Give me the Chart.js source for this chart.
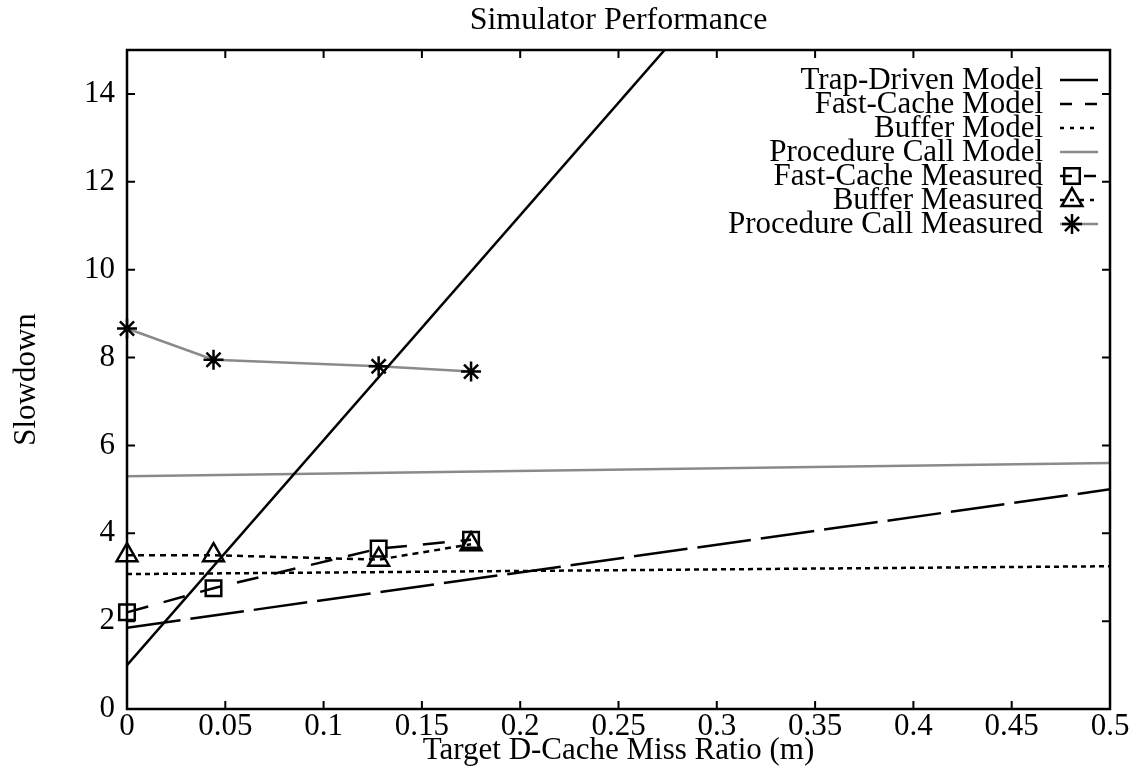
<!DOCTYPE html>
<html>
<head>
<meta charset="utf-8">
<title>Simulator Performance</title>
<script src="https://cdn.jsdelivr.net/npm/chart.js@4.4.1/dist/chart.umd.min.js"></script>
<style>
  html, body { margin: 0; padding: 0; background: #fff; }
  #wrap { width: 1140px; height: 769px; }
</style>
</head>
<body>
<div id="wrap"><canvas id="chartSim" width="1140" height="769"></canvas></div>
<script>
// ---- data ----
const xTickValues = [0, 0.05, 0.1, 0.15, 0.2, 0.25, 0.3, 0.35, 0.4, 0.45, 0.5];
const xTickLabels = ['0', '0.05', '0.1', '0.15', '0.2', '0.25', '0.3', '0.35', '0.4', '0.45', '0.5'];
const yTickValues = [0, 2, 4, 6, 8, 10, 12, 14];

// model lines: straight, given at both ends of the x range
const modelX = [0, 0.5];
const trapDrivenModel = [1.0, 26.6];      // leaves the top of the plot near m = 0.27
const fastCacheModel = [1.85, 5.0];
const bufferModel = [3.07, 3.25];
const procCallModel = [5.3, 5.6];

// measured points
const measuredX = [0, 0.044, 0.128, 0.175];
const fastCacheMeasured = [2.2, 2.75, 3.65, 3.85];
const bufferMeasured = [3.5, 3.5, 3.4, 3.75];
const procCallMeasured = [8.66, 7.95, 7.8, 7.68];

const GRAY = '#8a8a8a';
const FONT = "'Liberation Serif', 'Times New Roman', serif";

const pts = (xs, ys) => xs.map((x, i) => ({ x: x, y: ys[i] }));

Chart.defaults.font.family = FONT;
Chart.defaults.color = '#000';

// caja, marcas interiores y leyenda estilo gnuplot
const gnuplotFrame = {
    id: 'gnuplotFrame',
    afterDraw(chart) {
        const ctx = chart.ctx;
        const a = chart.chartArea;
        const xs = chart.scales.x;
        const ys = chart.scales.y;
        ctx.save();
        ctx.strokeStyle = '#000';
        ctx.setLineDash([]);

        // tick marks on all four sides, pointing inwards
        ctx.lineWidth = 2;
        ctx.beginPath();
        xTickValues.forEach(v => {
            const px = xs.getPixelForValue(v);
            ctx.moveTo(px, a.bottom); ctx.lineTo(px, a.bottom - 8);
            ctx.moveTo(px, a.top); ctx.lineTo(px, a.top + 8);
        });
        yTickValues.forEach(v => {
            const py = ys.getPixelForValue(v);
            ctx.moveTo(a.left, py); ctx.lineTo(a.left + 8, py);
            ctx.moveTo(a.right, py); ctx.lineTo(a.right - 8, py);
        });
        ctx.stroke();

        // frame
        ctx.lineWidth = 2.5;
        ctx.strokeRect(a.left, a.top, a.right - a.left, a.bottom - a.top);

        // legend, text right aligned with the sample on its right
        ctx.font = '31px ' + FONT;
        ctx.textAlign = 'right';
        ctx.textBaseline = 'alphabetic';
        chart.data.datasets.forEach((ds, i) => {
            const y = a.top + 30 + 24 * i;
            ctx.fillStyle = '#000';
            ctx.fillText(ds.label, a.right - 67, y + 9);

            ctx.strokeStyle = ds.borderColor;
            ctx.lineWidth = ds.borderWidth;
            ctx.setLineDash(ds.legendDash || []);
            ctx.beginPath();
            ctx.moveTo(a.right - 50, y);
            ctx.lineTo(a.right - 12, y);
            ctx.stroke();
            ctx.setLineDash([]);

            if (ds.pointRadius > 0) {
                ctx.strokeStyle = ds.pointBorderColor;
                ctx.fillStyle = 'rgba(0,0,0,0)';
                Chart.helpers.drawPoint(ctx, {
                    pointStyle: ds.pointStyle,
                    radius: ds.pointRadius,
                    borderWidth: ds.pointBorderWidth,
                    rotation: 0
                }, a.right - 38, y);
            }
        });
        ctx.restore();
    }
};

const ctxSim = document.getElementById('chartSim').getContext('2d');
new Chart(ctxSim, {
    type: 'line',
    data: {
        datasets: [
            {
                label: 'Trap-Driven Model',
                data: pts(modelX, trapDrivenModel),
                borderColor: '#000', borderWidth: 2.5,
                pointRadius: 0
            },
            {
                label: 'Fast-Cache Model',
                data: pts(modelX, fastCacheModel),
                borderColor: '#000', borderWidth: 2.5,
                borderDash: [54, 10], legendDash: [12, 13],
                pointRadius: 0
            },
            {
                label: 'Buffer Model',
                data: pts(modelX, bufferModel),
                borderColor: '#000', borderWidth: 2.5,
                borderDash: [5, 4], legendDash: [4, 6],
                pointRadius: 0
            },
            {
                label: 'Procedure Call Model',
                data: pts(modelX, procCallModel),
                borderColor: GRAY, borderWidth: 2.5,
                pointRadius: 0
            },
            {
                label: 'Fast-Cache Measured',
                data: pts(measuredX, fastCacheMeasured),
                borderColor: '#000', borderWidth: 2.5,
                borderDash: [22, 16], legendDash: [12, 12],
                pointStyle: 'rect', pointRadius: 11,
                pointBorderColor: '#000', pointBackgroundColor: 'rgba(0,0,0,0)', pointBorderWidth: 2.5,
                clip: false
            },
            {
                label: 'Buffer Measured',
                data: pts(measuredX, bufferMeasured),
                borderColor: '#000', borderWidth: 2.5,
                borderDash: [6, 5], legendDash: [4, 6],
                pointStyle: 'triangle', pointRadius: 12,
                pointBorderColor: '#000', pointBackgroundColor: 'rgba(0,0,0,0)', pointBorderWidth: 2.5,
                clip: false
            },
            {
                label: 'Procedure Call Measured',
                data: pts(measuredX, procCallMeasured),
                borderColor: GRAY, borderWidth: 2.5,
                pointStyle: 'star', pointRadius: 10,
                pointBorderColor: '#000', pointBackgroundColor: '#000', pointBorderWidth: 2.5,
                clip: false
            }
        ]
    },
    options: {
        responsive: false,
        animation: false,
        layout: { padding: { left: 0, right: 30, top: 0, bottom: 0 } },
        elements: { line: { tension: 0, fill: false } },
        plugins: {
            legend: { display: false },
            tooltip: { enabled: false },
            title: {
                display: true,
                text: 'Simulator Performance',
                fullSize: false,
                color: '#000',
                font: { size: 32, weight: 'normal', lineHeight: 1 },
                padding: { top: 5, bottom: 13 }
            }
        },
        scales: {
            x: {
                type: 'linear',
                min: 0, max: 0.5,
                grid: { display: false, drawTicks: false },
                border: { display: false },
                afterBuildTicks: s => { s.ticks = xTickValues.map(v => ({ value: v })); },
                afterFit: s => { s.height = 60; },
                ticks: {
                    color: '#000',
                    padding: 2,
                    maxRotation: 0,
                    autoSkip: false,
                    font: { size: 31, lineHeight: 1 },
                    callback: (v, i) => xTickLabels[i]
                },
                title: {
                    display: true,
                    text: 'Target D-Cache Miss Ratio (m)',
                    color: '#000',
                    font: { size: 31, lineHeight: 1 },
                    padding: { top: 0, bottom: 3 }
                }
            },
            y: {
                type: 'linear',
                min: 0, max: 15,
                grid: { display: false, drawTicks: false },
                border: { display: false },
                afterBuildTicks: s => { s.ticks = yTickValues.map(v => ({ value: v })); },
                afterFit: s => { s.width = 127; },
                ticks: {
                    color: '#000',
                    padding: 12,
                    font: { size: 31, lineHeight: 1 },
                    callback: v => String(v)
                },
                title: {
                    display: true,
                    text: 'Slowdown',
                    color: '#000',
                    font: { size: 31, lineHeight: 1 },
                    padding: { top: 11, bottom: 0 }
                }
            }
        }
    },
    plugins: [gnuplotFrame]
});
</script>
</body>
</html>
